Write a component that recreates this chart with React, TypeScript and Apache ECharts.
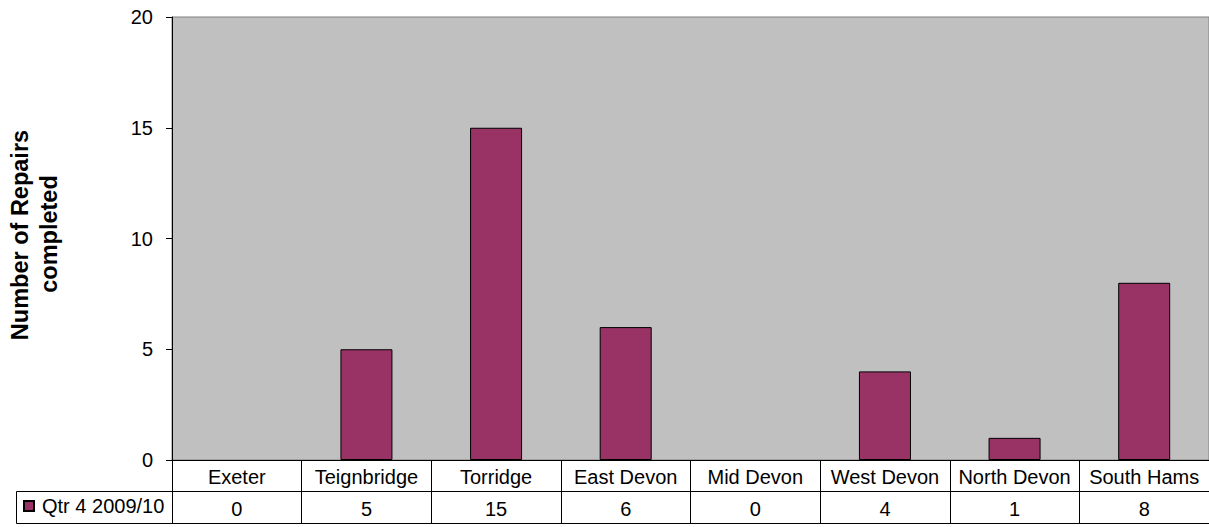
import React, { useEffect, useRef } from "react";
import * as echarts from "echarts";

const categories = ["Exeter", "Teignbridge", "Torridge", "East Devon", "Mid Devon", "West Devon", "North Devon", "South Hams"];
const seriesName = "Qtr 4 2009/10";
const repairs = [0, 5, 15, 6, 0, 4, 1, 8];
const yTitleLines = ["Number of Repairs", "completed"];

const FONT = "'Liberation Sans', Arial, sans-serif";

export default function App() {
  const ref = useRef<HTMLDivElement>(null);
  useEffect(() => {
    if (!ref.current) return;
    const chart = echarts.init(ref.current, null, { renderer: "svg" });
    chart.setOption({
      animation: false,
      textStyle: { fontFamily: FONT, color: "#000" },
      grid: {
        left: 172,
        right: 0,
        top: 17,
        bottom: 67,
        show: true,
        backgroundColor: "#C0C0C0",
        borderColor: "#808080",
        borderWidth: 1,
      },
      legend: {
        left: 23,
        top: 496,
        padding: 0,
        itemWidth: 10,
        itemHeight: 10,
        icon: "rect",
        textStyle: { fontSize: 20, fontFamily: FONT, color: "#000", padding: [0, 0, 0, 3] },
        data: [seriesName],
      },
      xAxis: [
        {
          type: "category",
          data: categories,
          position: "bottom",
          axisLine: { show: true, lineStyle: { color: "#000", width: 1 } },
          axisTick: { show: true, length: 64, interval: 0, lineStyle: { color: "#000", width: 1 } },
          axisLabel: { interval: 0, fontSize: 20, fontFamily: FONT, color: "#000", margin: 7 },
          z: 5,
        },
        {
          type: "category",
          data: repairs.map((v) => String(v)),
          position: "bottom",
          offset: 32,
          axisLine: { show: false },
          axisTick: { show: false },
          axisLabel: { interval: 0, fontSize: 20, fontFamily: FONT, color: "#000", margin: 7 },
        },
      ],
      yAxis: {
        type: "value",
        min: 0,
        max: 20,
        interval: 5,
        axisLine: { show: true, lineStyle: { color: "#000", width: 1 } },
        axisTick: { show: true, length: 6, lineStyle: { color: "#000" } },
        axisLabel: { fontSize: 20, fontFamily: FONT, color: "#000", margin: 19 },
        splitLine: { show: false },
      },
      graphic: [
        {
          type: "rect",
          shape: { x: 16.5, y: 491.5, width: 1193, height: 32 },
          style: { fill: "none", stroke: "#000", lineWidth: 1 },
          silent: true,
          z: 10,
        },
        {
          type: "text",
          x: 20,
          y: 235,
          rotation: Math.PI / 2,
          style: {
            text: yTitleLines[0],
            fontSize: 23.5,
            fontWeight: "bold",
            fontFamily: FONT,
            fill: "#000",
            textAlign: "center",
            textVerticalAlign: "middle",
          },
        },
        {
          type: "text",
          x: 49,
          y: 234,
          rotation: Math.PI / 2,
          style: {
            text: yTitleLines[1],
            fontSize: 23.5,
            fontWeight: "bold",
            fontFamily: FONT,
            fill: "#000",
            textAlign: "center",
            textVerticalAlign: "middle",
          },
        },
      ],
      series: [
        {
          name: seriesName,
          type: "bar",
          xAxisIndex: 0,
          data: repairs.map((v) =>
            v === 0 ? { value: v, itemStyle: { borderWidth: 0 } } : v
          ),
          barWidth: 52,
          itemStyle: { color: "#993366", borderColor: "#000", borderWidth: 1 },
        },
      ],
    });
    return () => chart.dispose();
  }, []);
  return (
    <div
      ref={ref}
      style={{ position: "fixed", left: 0, top: 0, width: 1209, height: 527, background: "#fff" }}
    />
  );
}
